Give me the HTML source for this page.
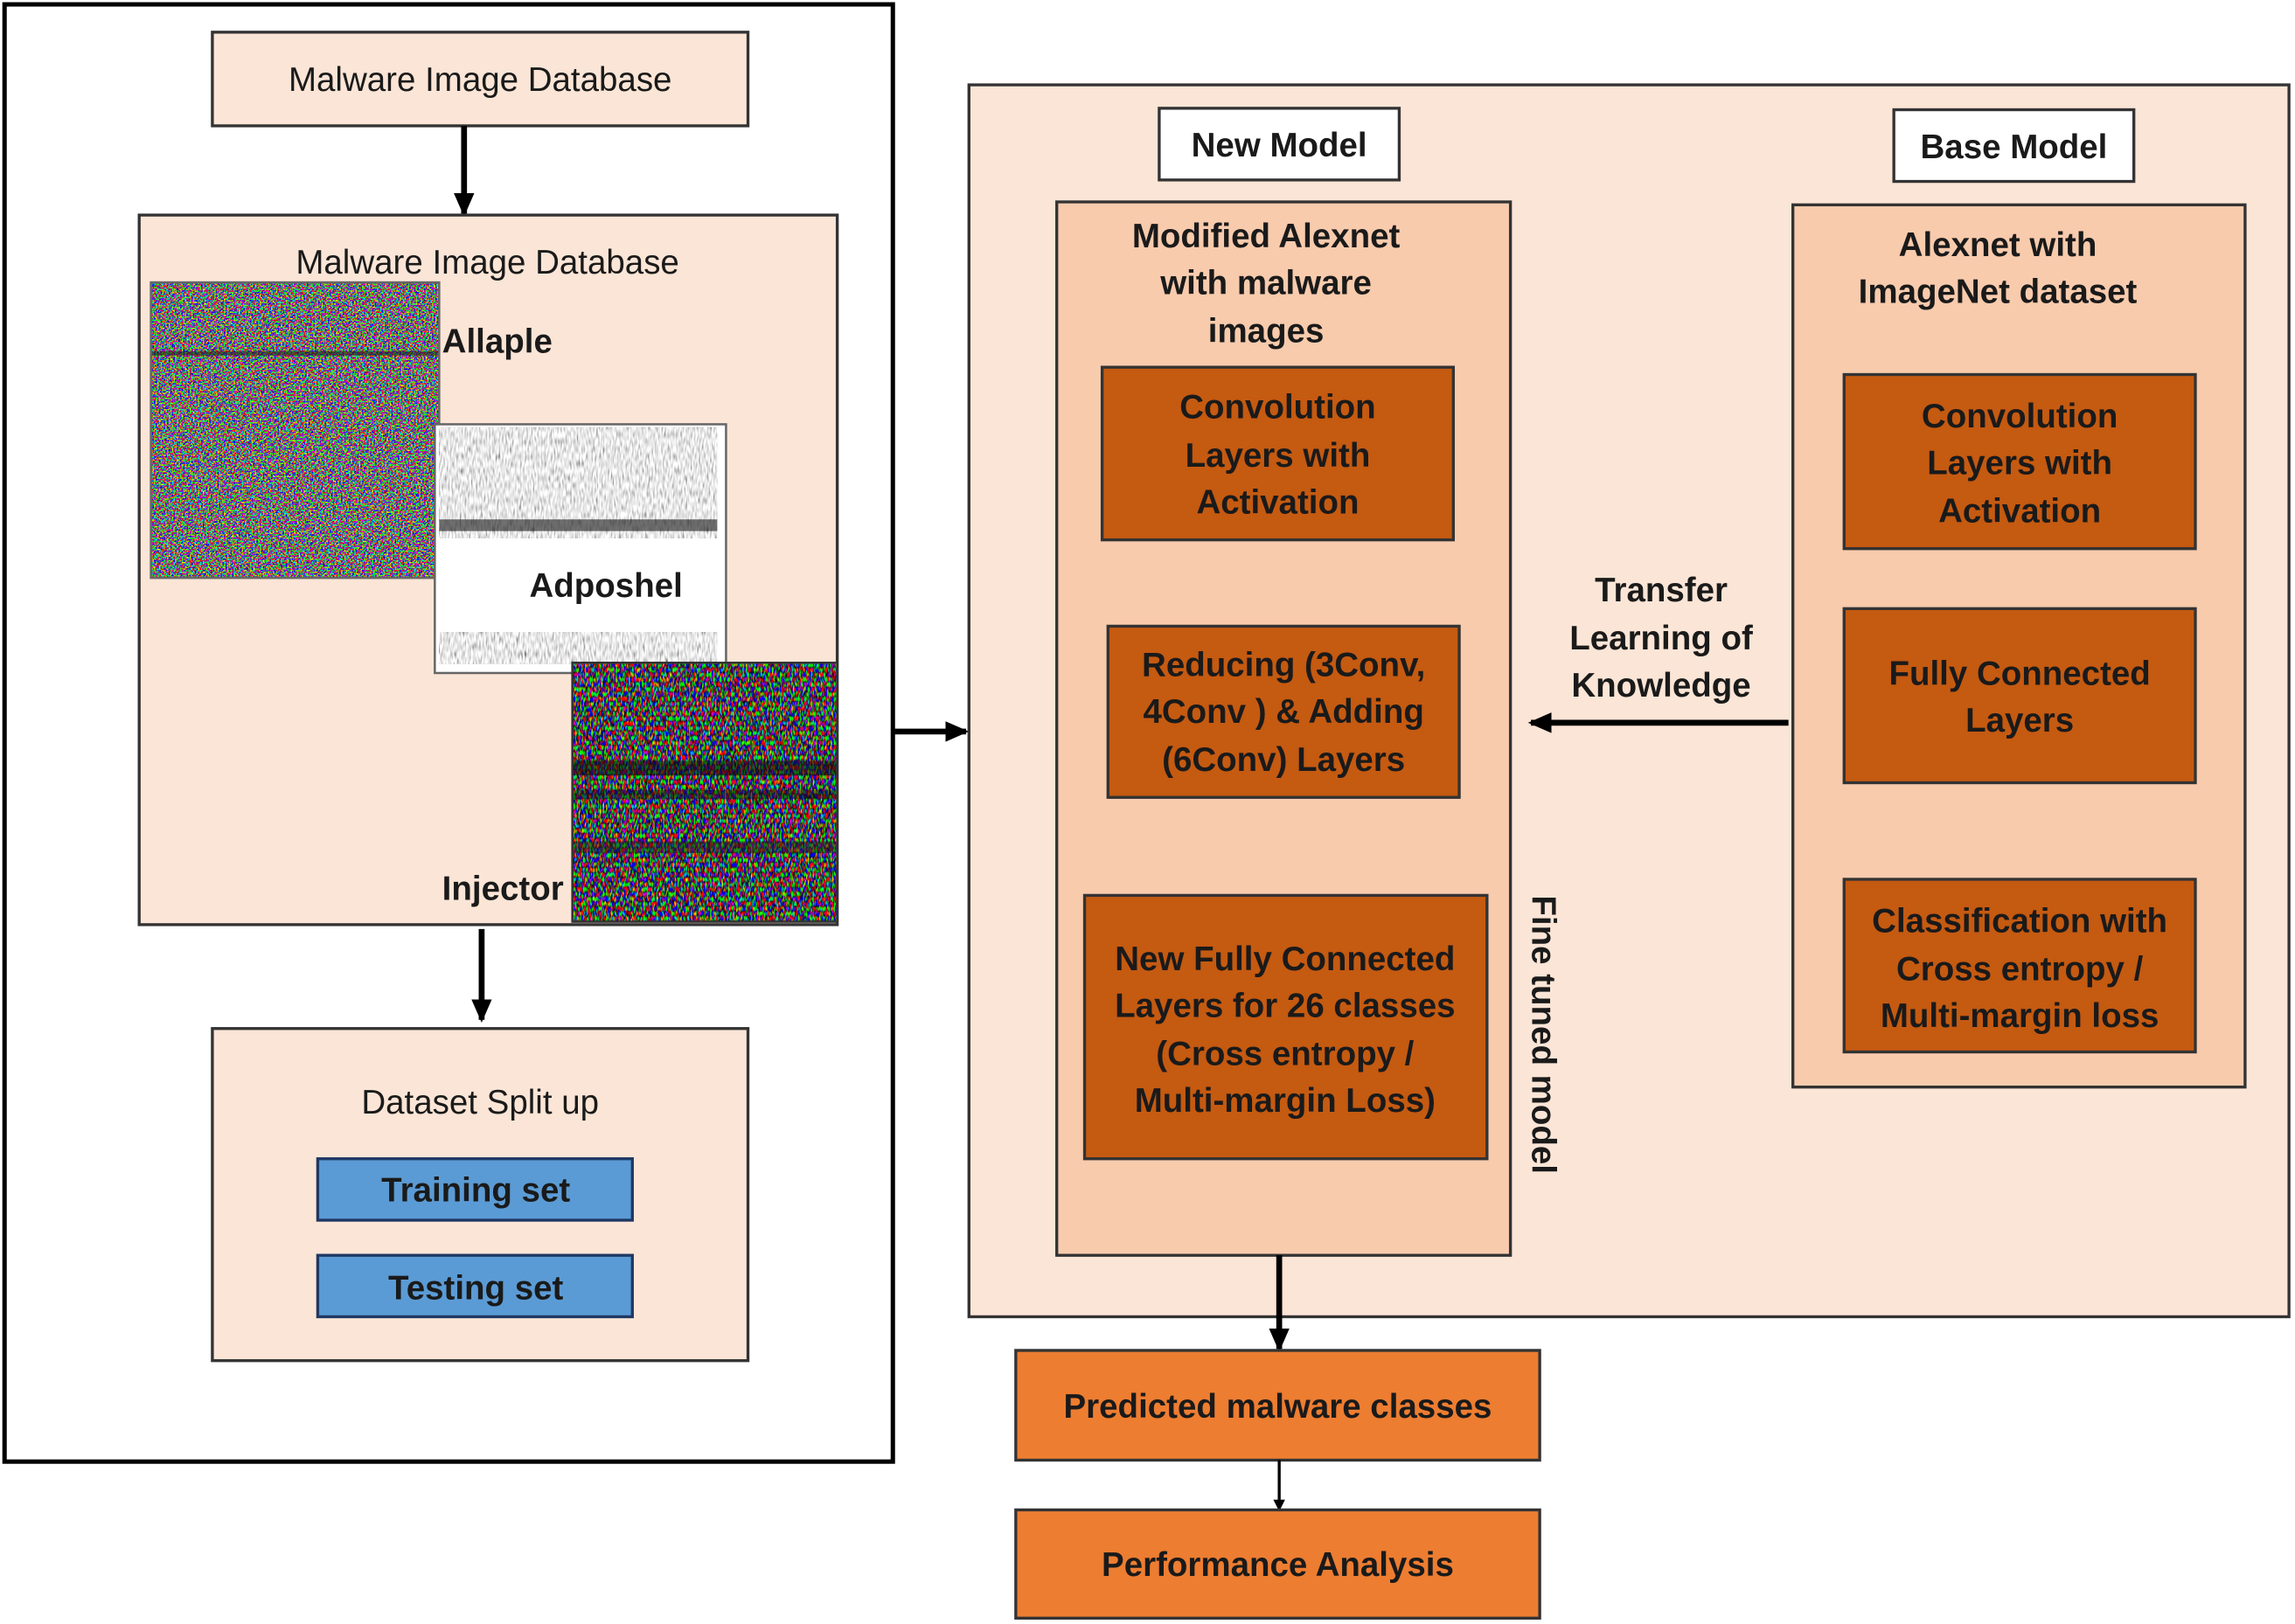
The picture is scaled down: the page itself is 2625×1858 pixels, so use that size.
<!DOCTYPE html>
<html><head><meta charset="utf-8"><style>
html,body{margin:0;padding:0;background:#fff;}
svg{display:block;}
text{font-family:"Liberation Sans",sans-serif;fill:#1a1a1a;}
.b{font-weight:bold;}
</style></head><body>
<svg width="2625" height="1858" viewBox="0 0 1568 1110" xmlns="http://www.w3.org/2000/svg">
<defs>
<filter id="cn" x="0" y="0" width="100%" height="100%">
<feTurbulence type="fractalNoise" baseFrequency="0.9" numOctaves="1" seed="3"/>
<feColorMatrix type="matrix" values="5 -2 -2 0 -0.3  -2 5 -2 0 -0.3  -2 -2 5 0 -0.3  0 0 0 0 1"/>
</filter>
<filter id="gn" x="0" y="0" width="100%" height="100%">
<feTurbulence type="fractalNoise" baseFrequency="0.9 0.2" numOctaves="1" seed="7"/>
<feColorMatrix type="matrix" values="0.9 0.9 0.9 0 -0.55  0.9 0.9 0.9 0 -0.55  0.9 0.9 0.9 0 -0.55  0 0 0 0 1"/>
</filter>
<filter id="in" x="0" y="0" width="100%" height="100%">
<feTurbulence type="fractalNoise" baseFrequency="0.9 0.3" numOctaves="1" seed="11"/>
<feColorMatrix type="matrix" values="4 -1.5 -1.5 0 -0.5  -1.5 4 -1.5 0 -0.5  -1.5 -1.5 4 0 -0.5  0 0 0 0 1"/>
</filter>
<marker id="ah" markerWidth="8" markerHeight="8" refX="6" refY="4" orient="auto" markerUnits="userSpaceOnUse"><path d="M0,0 L8,4 L0,8 z" fill="#000"/></marker>
<marker id="ab" markerWidth="16" markerHeight="14" refX="14" refY="7" orient="auto" markerUnits="userSpaceOnUse"><path d="M0,0 L16,7 L0,14 z" fill="#000"/></marker>
</defs>

<rect x="3" y="3" width="607" height="996" fill="#fff" stroke="#000" stroke-width="3"/>
<rect x="145" y="22" width="366" height="64" fill="#fbe5d6" stroke="#333" stroke-width="2"/>
<text x="328" y="62" font-size="23" text-anchor="middle">Malware Image Database</text>
<line x1="317" y1="86" x2="317" y2="146" stroke="#000" stroke-width="4" marker-end="url(#ab)"/>

<rect x="95" y="147" width="477" height="485" fill="#fbe5d6" stroke="#333" stroke-width="2"/>
<text x="333" y="187" font-size="23" text-anchor="middle">Malware Image Database</text>

<rect x="103" y="193" width="197" height="202" fill="#888" filter="url(#cn)"/>
<rect x="103" y="240" width="197" height="3" fill="#222" opacity="0.6"/>
<rect x="103" y="193" width="197" height="202" fill="none" stroke="#666" stroke-width="1.5"/>
<text x="302" y="241" font-size="23" class="b">Allaple</text>

<rect x="297" y="290" width="199" height="170" fill="#fff" stroke="#666" stroke-width="1.5"/>
<rect x="300" y="292" width="190" height="76" fill="#888" filter="url(#gn)"/>
<rect x="300" y="355" width="190" height="8" fill="#333" opacity="0.7"/>
<rect x="300" y="432" width="190" height="22" fill="#888" filter="url(#gn)"/>
<text x="414" y="408" font-size="23" class="b" text-anchor="middle">Adposhel</text>

<rect x="391" y="453" width="181" height="177" fill="#888" filter="url(#in)"/>
<rect x="391" y="520" width="181" height="10" fill="#111" opacity="0.6"/>
<rect x="391" y="540" width="181" height="6" fill="#111" opacity="0.5"/>
<rect x="391" y="575" width="181" height="8" fill="#222" opacity="0.5"/>
<rect x="391" y="453" width="181" height="177" fill="none" stroke="#333" stroke-width="1.5"/>
<text x="302" y="615" font-size="23" class="b">Injector</text>

<line x1="329" y1="635" x2="329" y2="697" stroke="#000" stroke-width="4" marker-end="url(#ab)"/>

<rect x="145" y="703" width="366" height="227" fill="#fbe5d6" stroke="#333" stroke-width="2"/>
<text x="328" y="761" font-size="23" text-anchor="middle">Dataset Split up</text>
<rect x="217" y="792" width="215" height="42" fill="#5b9bd5" stroke="#1f3864" stroke-width="2"/>
<text x="325" y="821" font-size="23" class="b" text-anchor="middle">Training set</text>
<rect x="217" y="858" width="215" height="42" fill="#5b9bd5" stroke="#1f3864" stroke-width="2"/>
<text x="325" y="888" font-size="23" class="b" text-anchor="middle">Testing set</text>

<line x1="610" y1="500" x2="660" y2="500" stroke="#000" stroke-width="4" marker-end="url(#ab)"/>

<rect x="662" y="58" width="902" height="842" fill="#fbe5d6" stroke="#333" stroke-width="2"/>
<rect x="792" y="74" width="164" height="49" fill="#fff" stroke="#333" stroke-width="2"/>
<text x="874" y="107" font-size="23" class="b" text-anchor="middle">New Model</text>
<rect x="1294" y="75" width="164" height="49" fill="#fff" stroke="#333" stroke-width="2"/>
<text x="1376" y="108" font-size="23" class="b" text-anchor="middle">Base Model</text>

<rect x="722" y="138" width="310" height="720" fill="#f8cbad" stroke="#333" stroke-width="2"/>
<g font-size="23" text-anchor="middle">
<text x="865" y="169" class="b">Modified Alexnet</text>
<text x="865" y="201" class="b">with malware</text>
<text x="865" y="234" class="b">images</text>
</g>
<rect x="753" y="251" width="240" height="118" fill="#c55a11" stroke="#333" stroke-width="2"/>
<g font-size="23" text-anchor="middle">
<text x="873" y="286" class="b">Convolution</text>
<text x="873" y="319" class="b">Layers with</text>
<text x="873" y="351" class="b">Activation</text>
</g>
<rect x="757" y="428" width="240" height="117" fill="#c55a11" stroke="#333" stroke-width="2"/>
<g font-size="23" text-anchor="middle">
<text x="877" y="462" class="b">Reducing (3Conv,</text>
<text x="877" y="494" class="b">4Conv ) &amp; Adding</text>
<text x="877" y="527" class="b">(6Conv) Layers</text>
</g>
<rect x="741" y="612" width="275" height="180" fill="#c55a11" stroke="#333" stroke-width="2"/>
<g font-size="23" text-anchor="middle">
<text x="878" y="663" class="b">New Fully Connected</text>
<text x="878" y="695" class="b">Layers  for 26 classes</text>
<text x="878" y="728" class="b">(Cross entropy /</text>
<text x="878" y="760" class="b">Multi-margin Loss)</text>
</g>
<text x="0" y="0" font-size="23" class="b" transform="translate(1047,612) rotate(90)">Fine tuned model</text>

<rect x="1225" y="140" width="309" height="603" fill="#f8cbad" stroke="#333" stroke-width="2"/>
<g font-size="23" text-anchor="middle">
<text x="1365" y="175" class="b">Alexnet with</text>
<text x="1365" y="207" class="b">ImageNet dataset</text>
</g>
<rect x="1260" y="256" width="240" height="119" fill="#c55a11" stroke="#333" stroke-width="2"/>
<g font-size="23" text-anchor="middle">
<text x="1380" y="292" class="b">Convolution</text>
<text x="1380" y="324" class="b">Layers with</text>
<text x="1380" y="357" class="b">Activation</text>
</g>
<rect x="1260" y="416" width="240" height="119" fill="#c55a11" stroke="#333" stroke-width="2"/>
<g font-size="23" text-anchor="middle">
<text x="1380" y="468" class="b">Fully Connected</text>
<text x="1380" y="500" class="b">Layers</text>
</g>
<rect x="1260" y="601" width="240" height="118" fill="#c55a11" stroke="#333" stroke-width="2"/>
<g font-size="23" text-anchor="middle">
<text x="1380" y="637" class="b">Classification with</text>
<text x="1380" y="670" class="b">Cross entropy /</text>
<text x="1380" y="702" class="b">Multi-margin loss</text>
</g>

<g font-size="23" text-anchor="middle">
<text x="1135" y="411" class="b">Transfer</text>
<text x="1135" y="444" class="b">Learning of</text>
<text x="1135" y="476" class="b">Knowledge</text>
</g>
<line x1="1222" y1="494" x2="1046" y2="494" stroke="#000" stroke-width="4" marker-end="url(#ab)"/>

<line x1="874" y1="858" x2="874" y2="922" stroke="#000" stroke-width="4" marker-end="url(#ab)"/>
<rect x="694" y="923" width="358" height="75" fill="#ed7d31" stroke="#333" stroke-width="2"/>
<text x="873" y="969" font-size="23" class="b" text-anchor="middle">Predicted malware classes</text>
<line x1="874" y1="998" x2="874" y2="1031" stroke="#000" stroke-width="2" marker-end="url(#ah)"/>
<rect x="694" y="1032" width="358" height="74" fill="#ed7d31" stroke="#333" stroke-width="2"/>
<text x="873" y="1077" font-size="23" class="b" text-anchor="middle">Performance Analysis</text>
</svg>
</body></html>
